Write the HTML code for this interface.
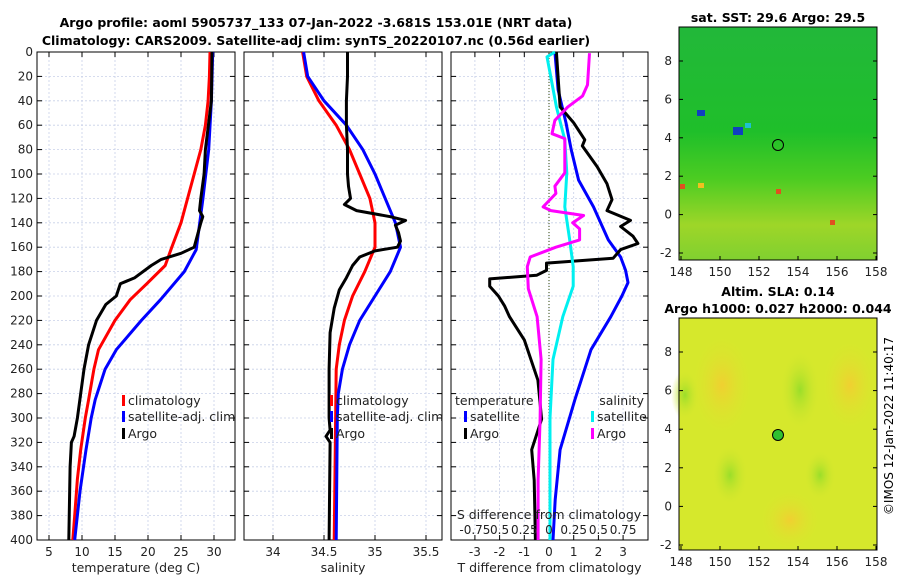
<!DOCTYPE html>
<html><head><meta charset="utf-8"><style>
body{margin:0;background:#fff;}
svg{font-family:"DejaVu Sans","Liberation Sans",sans-serif;}
</style></head><body>
<svg id="c" width="900" height="580" viewBox="0 0 900 580" xmlns="http://www.w3.org/2000/svg">
<defs>
<linearGradient id="sstg" x1="0" y1="0" x2="0" y2="1">
<stop offset="0" stop-color="#22b83a"/><stop offset="0.45" stop-color="#1fbf2a"/><stop offset="0.65" stop-color="#4ccc22"/><stop offset="0.85" stop-color="#9ed628"/><stop offset="1" stop-color="#80d030"/>
</linearGradient>
<radialGradient id="org"><stop offset="0" stop-color="#f0d030"/><stop offset="1" stop-color="#dbe62e" stop-opacity="0"/></radialGradient>
<radialGradient id="grn"><stop offset="0" stop-color="#9ade2a"/><stop offset="1" stop-color="#d4e62c" stop-opacity="0"/></radialGradient>
</defs>
<text x="316" y="27" text-anchor="middle" font-size="12.5" font-weight="bold">Argo profile: aoml 5905737_133 07-Jan-2022 -3.681S 153.01E (NRT data)</text>
<text x="316" y="45" text-anchor="middle" font-size="12.5" font-weight="bold">Climatology: CARS2009. Satellite-adj clim: synTS_20220107.nc (0.56d earlier)</text>
<g id="g"></g>
<!-- maps -->
<g>
<text x="778" y="22" text-anchor="middle" font-size="12.5" font-weight="bold">sat. SST: 29.6 Argo: 29.5</text>
<rect x="679" y="27" width="198" height="233" fill="url(#sstg)"/>
<rect x="679" y="27" width="198" height="233" fill="none" stroke="#000"/>
<rect x="697" y="110" width="8" height="6" fill="#1040c0"/><rect x="733" y="127" width="10" height="8" fill="#1040c0"/><rect x="745" y="123" width="6" height="5" fill="#20c0d0"/>
<rect x="680" y="184" width="5" height="5" fill="#e05020"/><rect x="698" y="183" width="6" height="5" fill="#f0c020"/><rect x="776" y="189" width="5" height="5" fill="#e05020"/><rect x="830" y="220" width="5" height="5" fill="#e05020"/>
<circle cx="778" cy="145" r="5.5" fill="none" stroke="#000"/>
</g>
<g>
<text x="778" y="296" text-anchor="middle" font-size="12.5" font-weight="bold">Altim. SLA: 0.14</text>
<text x="778" y="313" text-anchor="middle" font-size="12.5" font-weight="bold">Argo h1000: 0.027 h2000: 0.044</text>
<rect x="679" y="318" width="198" height="232" fill="#d6e82c"/>
<ellipse cx="722" cy="385" rx="30" ry="50" fill="url(#org)"/><ellipse cx="850" cy="385" rx="28" ry="45" fill="url(#org)"/><ellipse cx="790" cy="520" rx="30" ry="30" fill="url(#org)"/>
<ellipse cx="800" cy="390" rx="20" ry="40" fill="url(#grn)"/><ellipse cx="730" cy="475" rx="18" ry="30" fill="url(#grn)"/><ellipse cx="685" cy="395" rx="14" ry="25" fill="url(#grn)"/><ellipse cx="820" cy="475" rx="16" ry="25" fill="url(#grn)"/>
<rect x="679" y="318" width="198" height="232" fill="none" stroke="#000"/>
<circle cx="778" cy="435" r="5.5" fill="#30c030" stroke="#000"/>
</g>
<g id="mapax"></g>
<text transform="translate(893,426) rotate(-90)" text-anchor="middle" font-size="12">©IMOS 12-Jan-2022 11:40:17</text>
</svg>
<script>
// ---- data ----
const depthTicks=[0,20,40,60,80,100,120,140,160,180,200,220,240,260,280,300,320,340,360,380,400];
const tTicks=[5,10,15,20,25,30];
const sTicks=[34,34.5,35,35.5];
const dTicks=[-3,-2,-1,0,1,2,3];
const sdTickLabels=["-0.75","0.5","0.25","0","0.25","0.5","0.75"];
const climTD=[0,20,40,60,80,100,120,140,160,175,190,203,220,244,260,285,300,326,350,380,400];
const climT=[29.4,29.3,29.1,28.7,28.0,27.0,26.0,25.0,23.6,22.6,19.8,17.3,15.0,12.5,11.8,11.0,10.5,9.8,9.3,8.9,8.6];
const satTD=[0,40,80,121,162,180,203,220,244,260,285,300,326,360,400];
const satT=[29.8,29.6,29.2,28.3,27.3,25.5,21.9,19.0,15.2,13.5,12.0,11.4,10.6,9.7,8.9];
const argoTD=[0,40,80,100,120,130,135,140,150,160,165,170,175,185,190,200,207,220,240,260,280,300,315,320,340,400];
const argoT=[29.7,29.6,28.7,28.5,28.0,27.8,28.3,28.0,27.5,27.0,25.0,22.0,20.5,18.0,15.8,15.2,13.6,12.2,11.0,10.3,9.8,9.3,8.8,8.4,8.2,8.0];
const climSD=[0,20,40,60,80,100,120,140,160,180,200,220,240,260,400];
const climS=[34.29,34.33,34.45,34.62,34.75,34.85,34.95,35.0,35.0,34.9,34.78,34.7,34.65,34.62,34.6];
const satSD=[0,20,40,60,80,100,120,140,160,180,200,220,240,260,280,300,400];
const satS=[34.3,34.34,34.5,34.72,34.88,35.0,35.1,35.2,35.25,35.15,35.0,34.85,34.75,34.68,34.64,34.63,34.62];
const argoSD=[0,20,40,60,80,100,110,120,125,130,135,138,142,148,155,160,163,168,175,185,195,210,230,260,300,310,315,320,400];
const argoS=[34.73,34.73,34.72,34.72,34.73,34.73,34.74,34.76,34.7,34.82,35.15,35.3,35.2,35.23,35.25,35.22,35.0,34.85,34.78,34.72,34.65,34.6,34.56,34.55,34.55,34.56,34.52,34.56,34.55];
const tdSatD=[0,31,58,80,105,127,154,168,179,189,200,217,244,285,326,367,400];
const tdSat=[0.24,0.37,0.69,0.9,1.2,1.8,2.4,2.9,3.1,3.2,2.95,2.5,1.7,1.05,0.45,0.25,0.16];
const tdArgoD=[0,45,58,72,77,94,108,121,130,138,143,151,157,162,169,173,179,183,186,192,200,208,217,236,269,301,326,351,400];
const tdArgo=[0.3,0.45,1.0,1.45,1.35,1.95,2.35,2.55,2.35,3.3,2.9,3.4,3.6,2.9,2.6,-0.1,-0.1,-0.5,-2.4,-2.4,-2.05,-1.8,-1.6,-1.0,-0.45,-0.3,-0.7,-0.6,-0.55];
const sdSatD=[0,4,17,45,72,99,127,154,176,192,217,252,300,400];
const sdSat=[0.06,-0.02,0.01,0.075,0.16,0.18,0.16,0.21,0.245,0.245,0.14,0.04,0.01,0.01];
const sdArgoD=[1,27,36,45,56,67,71,99,110,116,127,130,134,140,145,154,160,168,176,194,217,252,301,351,400];
const sdArgo=[0.41,0.39,0.34,0.19,0.06,0.03,0.16,0.16,0.06,0.07,-0.06,0.02,0.35,0.24,0.31,0.31,0.07,-0.19,-0.22,-0.21,-0.12,-0.08,-0.09,-0.11,-0.11];
// ---- axes ----
const Y0=52,Y1=540;
const yD=d=>Y0+(d/400)*(Y1-Y0);
const P1={l:37,r:235},P2={l:244,r:442},P3={l:451,r:648};
const xT=t=>49+(t-5)*6.6;
const xS=s=>273+(s-34)*102;
const xD=v=>549+v*24.7;
const xSD=v=>xD(v*4);
const NS="http://www.w3.org/2000/svg";
const G=document.getElementById('g');
function el(tag,attrs,parent){const e=document.createElementNS(NS,tag);for(const k in attrs)e.setAttribute(k,attrs[k]);(parent||G).appendChild(e);return e;}
function txt(x,y,s,anchor,size,parent){const t=el('text',{x:x,y:y,'text-anchor':anchor||'middle','font-size':size||12,fill:'#222'},parent);t.textContent=s;return t;}
function panel(P,name,ticks,xf,labels,xlabel){
  const g=el('g',{});
  
  
  depthTicks.forEach(d=>{el('line',{x1:P.l,x2:P.r,y1:yD(d),y2:yD(d),stroke:'#c8d0e8','stroke-dasharray':'2,2','stroke-width':0.8},g);
    el('line',{x1:P.l,x2:P.l+5,y1:yD(d),y2:yD(d),stroke:'#000'},g);el('line',{x1:P.r-5,x2:P.r,y1:yD(d),y2:yD(d),stroke:'#000'},g);});
  ticks.forEach((t,i)=>{const x=xf(t);el('line',{x1:x,x2:x,y1:Y0,y2:Y1,stroke:'#c8d0e8','stroke-dasharray':'2,2','stroke-width':0.8},g);
    el('line',{x1:x,x2:x,y1:Y1,y2:Y1-5,stroke:'#000'},g);el('line',{x1:x,x2:x,y1:Y0,y2:Y0+5,stroke:'#000'},g);
    const lb=txt(x,556,labels[i],'middle',12,g);});
  el('rect',{x:P.l,y:Y0,width:P.r-P.l,height:Y1-Y0,fill:'none',stroke:'#000'},g);
  const xl=txt((P.l+P.r)/2,572,xlabel,'middle',12.5,g);
  
  
  return g;
}
panel(P1,'temperature-panel',tTicks,xT,tTicks.map(String),'temperature (deg C)');
panel(P2,'salinity-panel',sTicks,xS,sTicks.map(String),'salinity');
const g3=panel(P3,'difference-panel',dTicks,xD,dTicks.map(String),'T difference from climatology');
el('line',{x1:xD(0),x2:xD(0),y1:Y0,y2:Y1,stroke:'#556633','stroke-dasharray':'1,2','stroke-width':1.2},g3);
depthTicks.forEach(d=>{const t=txt(33,yD(d)+4,String(d),'end',12);
  
  });
function line(ds,vs,xf,color,name,w){
  const p=el('polyline',{points:ds.map((d,i)=>xf(vs[i]).toFixed(1)+','+yD(d).toFixed(1)).join(' '),fill:'none',stroke:color,'stroke-width':w||3,'stroke-linejoin':'round'});
  
  
}
line(climTD,climT,xT,'#ff0000','temp-climatology-line');
line(satTD,satT,xT,'#0000ff','temp-satellite-line');
line(argoTD,argoT,xT,'#000000','temp-argo-line');
line(climSD,climS,xS,'#ff0000','sal-climatology-line');
line(satSD,satS,xS,'#0000ff','sal-satellite-line');
line(argoSD,argoS,xS,'#000000','sal-argo-line');
line(tdSatD,tdSat,xD,'#0000ff','tdiff-satellite-line');
line(tdArgoD,tdArgo,xD,'#000000','tdiff-argo-line');
line(sdSatD,sdSat,xSD,'#00f0f0','sdiff-satellite-line');
line(sdArgoD,sdArgo,xSD,'#ff00ff','sdiff-argo-line');
// legends
function leg(x,y,color,label,name){
  const g=el('g',{});
  
  
  el('rect',{x:x,y:y-10,width:3,height:11,fill:color},g);
  txt(x+6,y,label,'start',12.5,g);
}
[[P1,122],[P2,330]].forEach(([P,x],k)=>{
  leg(x,405,'#ff0000','climatology','legend-climatology');
  leg(x,421,'#0000ff','satellite-adj. clim','legend-satellite-adj');
  leg(x,438,'#000000','Argo','legend-argo');
});
const tl=txt(455,405,'temperature','start',12.5);


const sl=txt(644,405,'salinity','end',12.5);


leg(464,421,'#0000ff','satellite','legend-t-satellite');
leg(464,438,'#000000','Argo','legend-t-argo');
leg(591,421,'#00f0f0','satellite','legend-s-satellite');
leg(591,438,'#ff00ff','Argo','legend-s-argo');
const s1=txt(549,519,'S difference from climatology','middle',12.5);


sdTickLabels.forEach((s,i)=>{const t=txt(xD(dTicks[i]),534,s,'middle',12);
  
  });
// map axes
const MA=document.getElementById('mapax');
const lonTicks=[148,150,152,154,156,158];
const latTicks=[-2,0,2,4,6,8];
const xLon=l=>681+(l-148)*19.5;
[[27,260,61,253],[318,550,352,545]].forEach(([top,bot,y8,ym2],k)=>{
  const yLat=v=>ym2+(v+2)*(y8-ym2)/10;
  lonTicks.forEach(l=>{el('line',{x1:xLon(l),x2:xLon(l),y1:bot,y2:bot-4,stroke:'#000'},MA);
    const t=txt(xLon(l),bot+16,String(l),'middle',12,MA);
    
    });
  latTicks.forEach(v=>{el('line',{x1:679,x2:683,y1:yLat(v),y2:yLat(v),stroke:'#000'},MA);
    el('line',{x1:873,x2:877,y1:yLat(v),y2:yLat(v),stroke:'#000'},MA);
    const t=txt(672,yLat(v)+4,String(v),'end',12,MA);
    
    });
});
</script>
</body></html>
